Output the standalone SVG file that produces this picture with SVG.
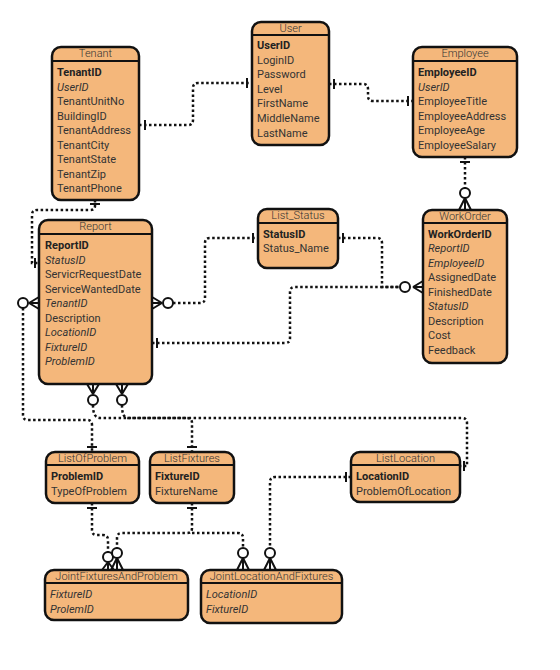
<svg xmlns="http://www.w3.org/2000/svg" width="560" height="670" viewBox="0 0 560 670">
<style>
.box{fill:#F4B77B;stroke:#111;stroke-width:2.5}
.hl{stroke:#111;stroke-width:2}
.t{font-family:Roboto,"Liberation Sans",sans-serif;font-size:11px;fill:#333;font-weight:300;text-anchor:middle}
.f{font-family:Roboto,"Liberation Sans",sans-serif;font-size:11px;fill:#333}
.pk{font-weight:bold;fill:#222}
.fk{font-style:italic}
.c{fill:none;stroke:#111;stroke-width:2.5;stroke-dasharray:2.5 2.5}
.b{fill:none;stroke:#111;stroke-width:2}
.o{fill:#fff;stroke:#111;stroke-width:2}
</style>
<rect width="560" height="670" fill="#fff"/>
<g id="connectors">
<!-- Tenant - User -->
<path class="c" d="M139,125 H188 Q193,125 193,120 V88 Q193,83 198,83 H252"/>
<path class="b" d="M145,120 V130 M247,78 V88"/>
<!-- User - Employee -->
<path class="c" d="M329,84 H363 Q368,84 368,89 V96 Q368,101 373,101 H413"/>
<path class="b" d="M334,79 V89 M408,96 V106"/>
<!-- Employee - WorkOrder -->
<path class="c" d="M465,157 V188"/>
<path class="b" d="M460,162 H470 M465,198 L459,210 M465,198 V210 M465,198 L471,210"/>
<circle class="o" cx="465" cy="193" r="5"/>
<!-- Tenant - Report -->
<path class="c" d="M95,200 V206 Q95,210 90,210 H37 Q32,210 32,215 V263 H39"/>
<path class="b" d="M90,204 H100 M35,258 V268"/>
<!-- Report left - ListOfProblem -->
<path class="c" d="M23,308 V415 Q23,420 28,420 H87 Q92,420 92,425 V452"/>
<path class="b" d="M29,303 L39,297 M29,303 H39 M29,303 L39,309 M87,447 H97"/>
<circle class="o" cx="23" cy="303" r="5"/>
<!-- Report right - List_Status -->
<path class="c" d="M173,303 H200 Q205,303 205,298 V243 Q205,238 210,238 H258"/>
<path class="b" d="M162,303 L152,297 M162,303 H152 M162,303 L152,309 M253,233 V243"/>
<circle class="o" cx="168" cy="303" r="5"/>
<!-- List_Status - WorkOrder -->
<path class="c" d="M338,238 H377 Q382,238 382,243 V287 H400"/>
<path class="b" d="M343,233 V243"/>
<!-- Report - WorkOrder -->
<path class="c" d="M152,343 H285 Q290,343 290,338 V292 Q290,287 295,287 H400"/>
<path class="b" d="M157,338 V348 M413,287 L423,281 M413,287 H423 M413,287 L423,293"/>
<circle class="o" cx="405" cy="287" r="5"/>
<!-- Report bottom - ListLocation -->
<path class="c" d="M93,405 Q93,418 100,418 H462 Q467,418 467,423 V466 H460"/>
<path class="b" d="M93,394 L87,384 M93,394 V384 M93,394 L99,384 M464,461 V471"/>
<circle class="o" cx="93" cy="400" r="5"/>
<!-- Report bottom - ListFixtures -->
<path class="c" d="M122,405 Q122,418 128,418 H187 Q192,418 192,423 V452"/>
<path class="b" d="M122,394 L116,384 M122,394 V384 M122,394 L128,384 M187,447 H197"/>
<circle class="o" cx="122" cy="400" r="5"/>
<!-- ListOfProblem - JointFixturesAndProblem -->
<path class="c" d="M92,503 V530 Q92,535 97,535 H103 Q108,535 108,540 V552"/>
<path class="b" d="M87,508 H97 M108,562 L102,570 M108,562 V570 M108,562 L114,570"/>
<circle class="o" cx="108" cy="557" r="5"/>
<!-- ListFixtures - JointFixturesAndProblem -->
<path class="c" d="M192,503 V528 Q192,533 187,533 H122 Q117,533 117,538 V548"/>
<path class="b" d="M187,508 H197 M117,558 L111,570 M117,558 V570 M117,558 L123,570"/>
<circle class="o" cx="117" cy="553" r="5"/>
<!-- ListFixtures - JointLocationAndFixtures -->
<path class="c" d="M192,533 H238 Q243,533 243,538 V548"/>
<path class="b" d="M243,558 L237,570 M243,558 V570 M243,558 L249,570"/>
<circle class="o" cx="243" cy="553" r="5"/>
<!-- ListLocation - JointLocationAndFixtures -->
<path class="c" d="M351,477 H275 Q270,477 270,482 V548"/>
<path class="b" d="M346,472 V482 M270,558 L264,570 M270,558 V570 M270,558 L276,570"/>
<circle class="o" cx="270" cy="553" r="5"/>
</g>
<g id="tenant">
<rect class="box" x="52" y="47" width="87" height="153" rx="9"/>
<line class="hl" x1="52" y1="61" x2="139" y2="61"/>
<text class="t" x="95.5" y="57">Tenant</text>
<text class="f pk" x="57" y="76">TenantID</text>
<text class="f fk" x="57" y="90.5">UserID</text>
<text class="f" x="57" y="105">TenantUnitNo</text>
<text class="f" x="57" y="119.5">BuildingID</text>
<text class="f" x="57" y="134">TenantAddress</text>
<text class="f" x="57" y="148.5">TenantCity</text>
<text class="f" x="57" y="163">TenantState</text>
<text class="f" x="57" y="177.5">TenantZip</text>
<text class="f" x="57" y="192">TenantPhone</text>
</g>
<g id="user">
<rect class="box" x="252" y="22" width="77" height="123" rx="9"/>
<line class="hl" x1="252" y1="35" x2="329" y2="35"/>
<text class="t" x="290.5" y="32">User</text>
<text class="f pk" x="257" y="49">UserID</text>
<text class="f" x="257" y="63.6">LoginID</text>
<text class="f" x="257" y="78.2">Password</text>
<text class="f" x="257" y="92.8">Level</text>
<text class="f" x="257" y="107.4">FirstName</text>
<text class="f" x="257" y="122">MiddleName</text>
<text class="f" x="257" y="136.6">LastName</text>
</g>
<g id="employee">
<rect class="box" x="413" y="47" width="104" height="110" rx="9"/>
<line class="hl" x1="413" y1="61" x2="517" y2="61"/>
<text class="t" x="465" y="57">Employee</text>
<text class="f pk" x="418" y="76">EmployeeID</text>
<text class="f fk" x="418" y="90.5">UserID</text>
<text class="f" x="418" y="105">EmployeeTitle</text>
<text class="f" x="418" y="119.5">EmployeeAddress</text>
<text class="f" x="418" y="134">EmployeeAge</text>
<text class="f" x="418" y="148.5">EmployeeSalary</text>
</g>
<g id="report">
<rect class="box" x="39" y="220" width="113" height="164" rx="9"/>
<line class="hl" x1="39" y1="234" x2="152" y2="234"/>
<text class="t" x="95.5" y="230">Report</text>
<text class="f pk" x="45" y="249">ReportID</text>
<text class="f fk" x="45" y="263.5">StatusID</text>
<text class="f" x="45" y="278">ServicrRequestDate</text>
<text class="f" x="45" y="292.5">ServiceWantedDate</text>
<text class="f fk" x="45" y="307">TenantID</text>
<text class="f" x="45" y="321.5">Description</text>
<text class="f fk" x="45" y="336">LocationID</text>
<text class="f fk" x="45" y="350.5">FixtureID</text>
<text class="f fk" x="45" y="365">ProblemID</text>
</g>
<g id="list_status">
<rect class="box" x="258" y="209" width="80" height="59" rx="9"/>
<line class="hl" x1="258" y1="223" x2="338" y2="223"/>
<text class="t" x="298" y="219">List_Status</text>
<text class="f pk" x="263" y="237.5">StatusID</text>
<text class="f" x="263" y="252">Status_Name</text>
</g>
<g id="workorder">
<rect class="box" x="423" y="210" width="84" height="153" rx="9"/>
<line class="hl" x1="423" y1="223" x2="507" y2="223"/>
<text class="t" x="465" y="220">WorkOrder</text>
<text class="f pk" x="428" y="237.5">WorkOrderID</text>
<text class="f fk" x="428" y="252">ReportID</text>
<text class="f fk" x="428" y="266.5">EmployeeID</text>
<text class="f" x="428" y="281">AssignedDate</text>
<text class="f" x="428" y="295.5">FinishedDate</text>
<text class="f fk" x="428" y="310">StatusID</text>
<text class="f" x="428" y="324.5">Description</text>
<text class="f" x="428" y="339">Cost</text>
<text class="f" x="428" y="353.5">Feedback</text>
</g>
<g id="listofproblem">
<rect class="box" x="46" y="452" width="93" height="51" rx="9"/>
<line class="hl" x1="46" y1="465" x2="139" y2="465"/>
<text class="t" x="92.5" y="462">ListOfProblem</text>
<text class="f pk" x="51" y="480">ProblemID</text>
<text class="f" x="51" y="494.5">TypeOfProblem</text>
</g>
<g id="listfixtures">
<rect class="box" x="150" y="452" width="84" height="51" rx="9"/>
<line class="hl" x1="150" y1="465" x2="234" y2="465"/>
<text class="t" x="192" y="462">ListFixtures</text>
<text class="f pk" x="155" y="480">FixtureID</text>
<text class="f" x="155" y="494.5">FixtureName</text>
</g>
<g id="listlocation">
<rect class="box" x="351" y="452" width="109" height="50" rx="9"/>
<line class="hl" x1="351" y1="465" x2="460" y2="465"/>
<text class="t" x="405.5" y="462">ListLocation</text>
<text class="f pk" x="356" y="480">LocationID</text>
<text class="f" x="356" y="494.5">ProblemOfLocation</text>
</g>
<g id="jointfixturesandproblem">
<rect class="box" x="45" y="570" width="143" height="50" rx="9"/>
<line class="hl" x1="45" y1="583" x2="188" y2="583"/>
<text class="t" x="116.5" y="580">JointFixturesAndProblem</text>
<text class="f fk" x="50" y="598">FixtureID</text>
<text class="f fk" x="50" y="612.5">ProlemID</text>
</g>
<g id="jointlocationandfixtures">
<rect class="box" x="201" y="570" width="141" height="53" rx="9"/>
<line class="hl" x1="201" y1="583" x2="342" y2="583"/>
<text class="t" x="271.5" y="580">JointLocationAndFixtures</text>
<text class="f fk" x="206" y="598">LocationID</text>
<text class="f fk" x="206" y="612.5">FixtureID</text>
</g>
</svg>
